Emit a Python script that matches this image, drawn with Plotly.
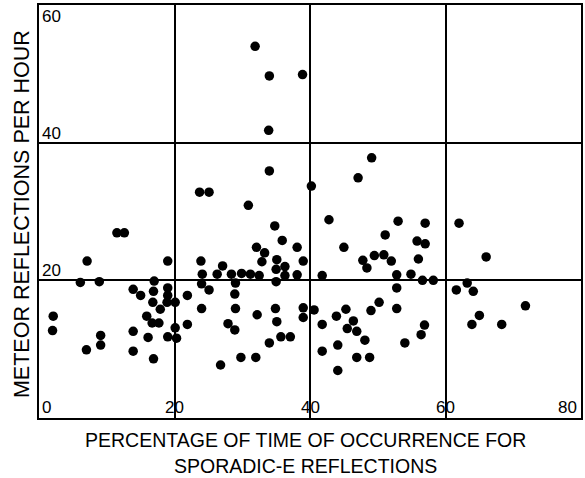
import plotly.graph_objects as go

# Percentage of time of occurrence for sporadic-E reflections
sporadic_e_pct = [
    2.1, 2.0, 6.1, 7.1, 8.9, 9.1, 9.1, 7.0, 11.5, 12.6,
    13.9, 15.0, 16.9, 17.0, 19.0, 19.0, 19.0, 16.8, 18.9, 20.1,
    21.9, 17.9, 15.9, 16.7, 17.7, 13.9, 20.1, 21.9, 16.1, 19.0,
    20.3, 13.9, 16.9, 23.9, 27.1, 24.1, 26.3, 28.4, 29.9, 31.2,
    32.5, 24.0, 29.0, 25.1, 28.9, 24.0, 29.0, 27.9, 28.9, 26.8,
    29.8, 32.0, 32.2, 34.0, 35.7, 37.1, 35.1, 34.9, 35.0, 35.0,
    36.3, 35.1, 36.3, 38.1, 38.1, 39.0, 35.9, 32.1, 33.3, 32.9,
    34.8, 30.9, 23.7, 25.1, 34.0, 40.2, 33.9, 34.0, 38.9, 31.9,
    39.0, 40.6, 39.0, 41.8, 41.8, 41.8, 42.8, 44.1, 44.1, 43.9,
    45.3, 46.4, 45.5, 46.9, 48.1, 46.9, 48.8, 45.0, 47.1, 49.1,
    47.8, 48.4, 49.5, 50.9, 52.0, 51.1, 53.0, 57.0, 55.8, 57.0,
    56.0, 52.8, 54.9, 56.6, 58.2, 52.8, 50.2, 49.0, 52.8, 56.9,
    56.4, 54.0, 62.0, 66.0, 63.2, 61.6, 64.1, 71.8, 65.0, 63.9,
    68.3,
]
# Meteor reflections per hour
meteor_per_hour = [
    14.8, 12.7, 19.7, 22.8, 19.8, 12.0, 10.6, 9.9, 26.9, 26.9,
    18.7, 17.8, 18.4, 19.9, 22.8, 18.9, 17.8, 16.8, 16.8, 16.8,
    17.8, 15.8, 14.8, 13.8, 13.8, 12.6, 13.1, 13.6, 11.7, 11.8,
    11.6, 9.7, 8.6, 22.8, 22.1, 20.9, 20.9, 20.9, 21.0, 20.9,
    20.7, 19.5, 19.6, 18.6, 18.0, 15.9, 15.9, 13.7, 12.8, 7.7,
    8.8, 8.8, 15.0, 10.9, 11.8, 11.8, 14.0, 15.9, 19.8, 21.6,
    22.0, 23.0, 20.7, 20.8, 24.8, 22.8, 25.8, 24.8, 24.0, 22.7,
    27.9, 30.9, 32.8, 32.8, 35.9, 33.7, 41.8, 49.7, 49.9, 54.0,
    16.0, 15.7, 14.6, 20.7, 13.6, 9.7, 28.8, 6.9, 10.6, 14.8,
    15.8, 14.1, 13.0, 12.6, 11.3, 8.8, 8.8, 24.8, 34.9, 37.8,
    22.9, 21.8, 23.6, 23.7, 22.8, 26.6, 28.6, 28.3, 25.7, 25.3,
    23.1, 20.8, 20.9, 20.0, 20.0, 18.9, 16.8, 15.6, 15.9, 13.5,
    12.1, 10.9, 28.3, 23.4, 19.6, 18.6, 18.4, 16.3, 14.9, 13.6,
    13.6,
]

x_tick_vals = [0, 20, 40, 60, 80]
x_tick_text = ["0", "20", "40", "60", "80"]
y_tick_vals = [20, 40, 60]
y_tick_text = ["20", "40", "60"]

x_title_lines = ["PERCENTAGE OF TIME OF OCCURRENCE FOR", "SPORADIC-E REFLECTIONS"]
y_title = "METEOR REFLECTIONS PER HOUR"

FONT = "Liberation Sans, Arial, sans-serif"

fig = go.Figure()
fig.add_trace(go.Scatter(
    x=sporadic_e_pct, y=meteor_per_hour, mode="markers",
    marker=dict(size=9.5, color="black", line=dict(width=0)),
    showlegend=False, hoverinfo="x+y",
))

axis_common = dict(
    showgrid=True, gridcolor="black", gridwidth=1.5,
    showline=True, linecolor="black", linewidth=2, mirror=True,
    zeroline=False, showticklabels=False, ticks="", dtick=20, tick0=0,
)
fig.update_xaxes(range=[0, 80], **axis_common)
fig.update_yaxes(range=[0, 60], **axis_common)

annotations = []
for v, t in zip(x_tick_vals, x_tick_text):
    if v == x_tick_vals[0]:
        anchor, shift = "left", 1
    elif v == x_tick_vals[-1]:
        anchor, shift = "right", -2
    else:
        anchor, shift = "center", 0
    annotations.append(dict(
        x=v, y=0, xref="x", yref="y", text=t, showarrow=False,
        xanchor=anchor, yanchor="bottom", xshift=shift, yshift=-1,
        font=dict(family=FONT, size=17, color="black"),
    ))
for v, t in zip(y_tick_vals, y_tick_text):
    top = v == y_tick_vals[-1]
    annotations.append(dict(
        x=0, y=v, xref="x", yref="y", text=t, showarrow=False,
        xanchor="left", yanchor="top" if top else "bottom",
        xshift=1, yshift=0 if top else -2,
        font=dict(family=FONT, size=17, color="black"),
    ))

W, H = 585, 478
ML, MR, MT, MB = 39, 2, 5, 60
pw, ph = W - ML - MR, H - MT - MB


def px_to_paper(xp, yp):
    return (xp - ML) / pw, (H - MB - yp) / ph


yx, yy = px_to_paper(22, 214)
annotations.append(dict(
    x=yx, y=yy, xref="paper", yref="paper", text=y_title, showarrow=False,
    textangle=-90, xanchor="center", yanchor="middle",
    font=dict(family=FONT, size=21.5, color="black"),
))
for line, ypx in zip(x_title_lines, [440, 466]):
    lx, ly = px_to_paper(306, ypx)
    annotations.append(dict(
        x=lx, y=ly, xref="paper", yref="paper", text=line,
        showarrow=False, xanchor="center", yanchor="middle",
        font=dict(family=FONT, size=19.5, color="black"),
    ))

fig.update_layout(
    width=W, height=H,
    margin=dict(l=ML, r=MR, t=MT, b=MB),
    paper_bgcolor="white", plot_bgcolor="white",
    annotations=annotations,
)

fig.write_html("out.html", config={"displayModeBar": False},
               post_script="document.body.style.margin='0';")
